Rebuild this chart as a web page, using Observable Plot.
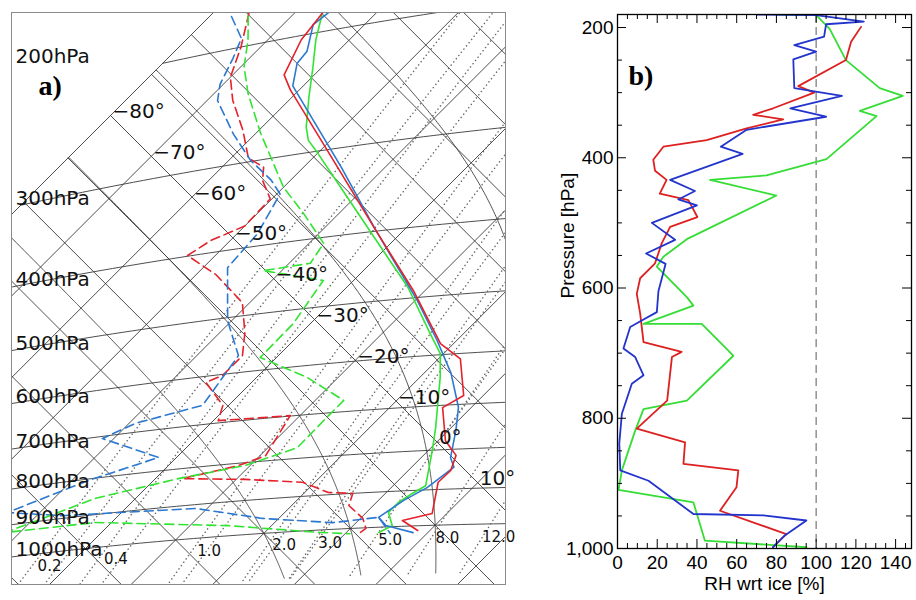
<!DOCTYPE html>
<html><head><meta charset="utf-8">
<script src="https://cdn.jsdelivr.net/npm/d3@7"></script>
<script src="https://cdn.jsdelivr.net/npm/@observablehq/plot@0.6"></script>
<style>
html,body{margin:0;padding:0;background:#fff;}
#wrap{position:relative;width:916px;height:600px;overflow:hidden;background:#fff;}
#pa{position:absolute;left:0;top:0;}
#pb{position:absolute;left:520px;top:0;}
</style></head>
<body><div id="wrap"><div id="pa"></div><div id="pb"></div></div>
<script>
// ================= DATA =================
// Panel a: tephigram soundings — pressure (hPa) and temperature (°C)
const redT_p  = [187,203,227,240,301,399,489,580,610,682,705,779,815,852,881,966,983,1014];
const redT_t  = [-66.6,-65.9,-63.7,-61.1,-49.1,-33.4,-21.4,-11.6,-7.3,-2.4,-3.5,0.9,4.0,5.2,5.1,8.2,5.4,8.5];
const blueT_p = [188,194,212,220,237,320,399,505,574,636,706,756,820,844,894,926,971,996,1020];
const blueT_t = [-65.9,-66.3,-63.8,-63.5,-61.3,-45.4,-33.4,-19.7,-12.4,-6.7,-1.6,0.9,3.6,5.2,4.4,3.1,2.1,4.0,8.2];
const greenT_p= [188,205,225,249,275,288,302,359,427,483,561,598,643,690,748,801,889,908,932,958,997,1016];
const greenT_t= [-66.5,-64.1,-61.1,-57.9,-54.6,-52.7,-50.0,-40.2,-30.0,-22.5,-14.1,-10.4,-7.5,-4.9,-1.9,0.5,4.0,3.3,2.7,2.7,4.8,4.0];

const redTd_p  = [178,200,221,240,268,296,308,322,344,372,384,399,432,479,529,569,602,612,663,695,699,787,806,826,843,862,894,900,933,972,1002,1014];
const redTd_t  = [-75.6,-72.4,-70.0,-66.9,-62.0,-57.9,-54.9,-53.4,-50.2,-50.0,-52.4,-53.4,-47.5,-40.9,-36.9,-34.4,-34.4,-35.6,-30.7,-29.4,-21.2,-19.3,-21.4,-26.7,-18.9,-11.5,-7.1,-4.0,-3.0,0.3,1.9,1.7];
const blueTd_p = [178,194,207,225,238,270,299,323,340,384,424,505,568,658,680,705,766,804,863,892,911,955,980,971,1020];
const blueTd_t = [-77.3,-73.4,-72.0,-70.4,-68.7,-62.7,-57.3,-52.4,-49.6,-47.5,-47.0,-40.5,-34.9,-33.2,-39.2,-41.4,-32.2,-38.0,-44.0,-36.9,-21.4,-12.0,-2.9,2.1,5.5];
const greenTd_p= [180,196,215,237,274,333,367,408,433,435,460,523,576,623,676,706,774,807,825,854,921,923,969,1007,1016];
const greenTd_t= [-75.3,-72.4,-69.6,-65.8,-59.4,-50.0,-44.3,-38.2,-37.4,-42.3,-33.7,-32.1,-32.0,-23.8,-16.5,-16.5,-16.4,-20.6,-27.2,-34.9,-41.8,-32.0,-15.3,-3.4,0.6];

// Panel b: relative humidity with respect to ice (%) vs pressure (hPa)
const rhRed_p   = [199,222,250,290,300,324,334,341,355,373,383,403,420,434,455,465,491,506,531,562,585,609,639,683,698,706,773,816,837,870,880,906,942,978,998];
const rhRed     = [122.6,117.6,115,91,99,78.4,68.3,83.4,65,44.9,23.1,18,18.9,24.7,21.3,35.7,40.2,26.5,22.3,18.9,11.4,9.7,11.4,13.1,32.3,27.4,25,9.7,34,33.2,60.8,59.9,51.6,85,78.3];
const rhBlue_p  = [180,181,191,195,214,227,237,249,293,305,324,337,357,383,394,434,451,464,473,500,526,547,563,605,637,650,660,693,706,734,747,793,839,880,896,947,949,957,980,998];
const rhBlue    = [70,100,124,105,104,89,100,88.5,89,113,87,105,65,52,63,26.5,39,30.6,40,17.3,29,14.4,24.2,20.6,19.8,12.2,6.4,3,8.9,13.1,7.2,2.2,0.9,1.4,15.6,38.2,73.4,95.1,84.2,78.3];
const rhGreen_p = [180,181,202,250,293,305,328,336,402,427,434,458,525,552,567,614,627,655,655,704,773,786,819,880,910,929,988,998];
const rhGreen   = [80,100,106.8,115,132,143.6,122,130.4,105.2,75,46.6,80,34.9,23.1,19.8,34.9,38.2,13.1,42.4,58.3,34.9,13.1,8.9,2.2,0.5,38.2,44,95.1];

// Axis / grid values
const isobarLevels   = [200,300,400,500,600,700,800,900,1000];
const isothermValues = d3.range(-80, 61, 10);
const isothermLabels = [-80,-70,-60,-50,-40,-30,-20,-10,0,10];
const adiabatValues  = d3.range(-60, 201, 10);        // potential temperature, °C
const mixingRatios   = [0.2,0.4,1.0,2.0,3.0,5.0,8.0,12.0,20.0];
const mixingLabels   = [0.2,0.4,1.0,2.0,3.0,5.0,8.0,12.0];
const moistValues    = [-10,0,10,20,30];               // wet-bulb potential temperature, °C
const rhTicks   = [0,20,40,60,80,100,120,140];
const presTicks = [200,400,600,800,1000];

// ================= TEPHIGRAM PROJECTION =================
const KAP = 0.2857, TH0 = 293.15;
const A = 4.08, B = 1225, U0 = 110, V0 = 115, TREF = -80;
function projTh(Tc, thK){ const s=A*(Tc-TREF), q=B*Math.log(thK/TH0); return {u:U0+s+q, v:V0+s-q}; }
function proj(Tc, p){ return projTh(Tc, (Tc+273.15)*Math.pow(1000/p, KAP)); }
function esw(Tc){ return 6.112*Math.exp(17.67*Tc/(Tc+243.5)); }
function Tfromw(w, p, ice){ const e = (w/1000)*p/(0.622 + w/1000); const L=Math.log(e/6.112);
  return ice ? 272.62*L/(22.46-L) : 243.5*L/(17.67-L); }
function dTdp(TK,p){ const Tc=TK-273.15, es=esw(Tc), rs=0.622*es/(p-es);
  const Lv=2.501e6, Rd=287.04, cp=1005.7;
  return (Rd*TK+Lv*rs)/(p*(cp+Lv*Lv*rs*0.622/(Rd*TK*TK))); }

const grid = [];
isothermValues.forEach(T=>{ [150,700].forEach(th=>grid.push({...projTh(T,th), id:"T"+T})); });
adiabatValues.forEach(th=>{ [-80,70].forEach(T=>grid.push({...projTh(T,th+273.15), id:"th"+th})); });
isobarLevels.forEach(p=>{ for(let T=-80;T<=70;T+=1) grid.push({...proj(T,p), id:"p"+p}); });

const moist = [];
moistValues.forEach(tw=>{
  let T=tw+273.15; const seg=[];
  for(let p=1000;p>=150;p-=2){ seg.push({p,T:T-273.15}); const h=-2; const k1=dTdp(T,p), k2=dTdp(T+h*k1/2,p+h/2); T+=h*k2; }
  T=tw+273.15; const low=[];
  for(let p=1000;p<=1150;p+=2){ low.push({p,T:T-273.15}); const h=2; const k1=dTdp(T,p), k2=dTdp(T+h*k1/2,p+h/2); T+=h*k2; }
  low.reverse().concat(seg).filter(d=>d.T>=-80).forEach(d=>moist.push({...proj(d.T,d.p), id:"m"+tw}));
});

const mix = [];
mixingRatios.forEach(w=>{
  for(let p=1150;p>=150;p-=10) mix.push({...proj(Tfromw(w,p,false),p), id:"w"+w});
  for(let p=1150;p>=150;p-=10){ const Ti=Tfromw(w,p,true); if(Ti<0) mix.push({...proj(Ti,p), id:"wi"+w}); }
});
const mixLab = mixingLabels.map(w=>({...proj(Tfromw(w,1000,false),1000), label:w.toFixed(1)}));

const isoLab = isobarLevels.map(p=>{ let pt=null; for(let T=-80;T<=70;T+=0.25){ const q=proj(T,p); if(q.u>=11){pt=q;break;} } return {v:pt.v, label:p+"hPa"}; });
const tLab = isothermLabels.map(T=>({...projTh(T,TH0), label:(T<0?"\u2212"+(-T):T)+"°"}));

function rows(ps, ts){ return ps.map((p,i)=>proj(ts[i],p)); }
const RED="#e4222b", BLUE="#2c78d0", GREEN="#33e333";
const lineA = (ps,ts,c,dash)=>Plot.line(rows(ps,ts),{x:"u",y:"v",stroke:c,strokeWidth:1.6,clip:true,strokeDasharray:dash?"9,5":null});

const pa = Plot.plot({
  width:540, height:600, marginLeft:11, marginRight:35, marginTop:12, marginBottom:16,
  x:{domain:[11,505], axis:null}, y:{domain:[12,584], reverse:true, axis:null},
  style:{background:"#fff", fontFamily:"DejaVu Sans, sans-serif", color:"#000"},
  marks:[
    Plot.line(grid,{x:"u",y:"v",z:"id",stroke:"#3a3a3a",strokeWidth:0.9,clip:true}),
    Plot.line(moist,{x:"u",y:"v",z:"id",stroke:"#3a3a3a",strokeWidth:0.9,clip:true}),
    Plot.line(mix,{x:"u",y:"v",z:"id",stroke:"#6a6a6a",strokeWidth:1.5,strokeDasharray:"0.1,4",strokeLinecap:"round",clip:true}),
    lineA(redTd_p,redTd_t,RED,true), lineA(blueTd_p,blueTd_t,BLUE,true), lineA(greenTd_p,greenTd_t,GREEN,true),
    lineA(greenT_p,greenT_t,GREEN,false), lineA(blueT_p,blueT_t,BLUE,false), lineA(redT_p,redT_t,RED,false),
    Plot.text(isoLab,{frameAnchor:"left", y:"v", text:"label", textAnchor:"start", dx:4, dy:-7, fontSize:20, fill:"#111"}),
    Plot.text(tLab,{x:"u", y:"v", text:"label", textAnchor:"start", dx:2, dy:-4, fontSize:20, fill:"#111"}),
    Plot.text(mixLab,{x:"u", y:"v", text:"label", textAnchor:"middle", dx:8, dy:13, fontSize:15, fill:"#111"}),
    Plot.text(["a)"],{frameAnchor:"top-left", dx:27, dy:63, textAnchor:"start", fontFamily:"Liberation Serif, serif", fontWeight:"bold", fontSize:28}),
    Plot.frame({stroke:"#8a8a8a", strokeWidth:1})
  ]
});
document.getElementById("pa").appendChild(pa);

// ================= PANEL B =================
const kY = (1000-180)/534, kX = 148/295;
const xMinor = d3.range(0,148,5).filter(d=>d%20!==0);
const yMinor = d3.range(200,1001,50).filter(d=>d%200!==0);
const rb = (ps,vs)=>ps.map((p,i)=>({p, rh:vs[i]}));
const pb = Plot.plot({
  width:396, height:600, marginLeft:97, marginRight:5, marginTop:14, marginBottom:52,
  x:{domain:[0,148]}, y:{domain:[180,1000], reverse:true},
  style:{background:"transparent", fontFamily:"Liberation Sans, Arial, sans-serif", fontSize:"19px", color:"#000"},
  marks:[
    Plot.ruleX([100],{stroke:"#808080", strokeWidth:1.3, strokeDasharray:"8,5"}),
    Plot.line(rb(rhGreen_p,rhGreen),{x:"rh",y:"p",stroke:"#35dd35",strokeWidth:1.8,clip:true}),
    Plot.line(rb(rhRed_p,rhRed),{x:"rh",y:"p",stroke:"#dd2020",strokeWidth:1.8,clip:true}),
    Plot.line(rb(rhBlue_p,rhBlue),{x:"rh",y:"p",stroke:"#2234cc",strokeWidth:1.8,clip:true}),
    Plot.ruleX(rhTicks,{x:d=>d, y1:1000, y2:1000-9*kY, stroke:"#000"}),
    Plot.ruleX(xMinor,{x:d=>d, y1:1000, y2:1000-5*kY, stroke:"#000"}),
    Plot.ruleX(rhTicks,{x:d=>d, y1:180, y2:180+9*kY, stroke:"#000"}),
    Plot.ruleX(xMinor,{x:d=>d, y1:180, y2:180+5*kY, stroke:"#000"}),
    Plot.ruleY(presTicks,{y:d=>d, x1:0, x2:9*kX, stroke:"#000"}),
    Plot.ruleY(yMinor,{y:d=>d, x1:0, x2:5*kX, stroke:"#000"}),
    Plot.ruleY(presTicks,{y:d=>d, x1:148, x2:148-9*kX, stroke:"#000"}),
    Plot.ruleY(yMinor,{y:d=>d, x1:148, x2:148-5*kX, stroke:"#000"}),
    Plot.frame({stroke:"#000", strokeWidth:1.3}),
    Plot.axisX({ticks:rhTicks, tickSize:0, tickPadding:7, label:null, fontSize:19}),
    Plot.axisY({ticks:presTicks, tickSize:0, tickPadding:4, label:null, fontSize:19}),
    Plot.text(["RH wrt ice [%]"],{frameAnchor:"bottom", dy:41, fontSize:19}),
    Plot.text(["Pressure [hPa]"],{frameAnchor:"left", dx:-50, dy:17, rotate:-90, fontSize:19}),
    Plot.text(["b)"],{frameAnchor:"top-left", dx:11, dy:51, textAnchor:"start", fontFamily:"Liberation Serif, serif", fontWeight:"bold", fontSize:28})
  ]
});
document.getElementById("pb").appendChild(pb);
</script></body></html>
